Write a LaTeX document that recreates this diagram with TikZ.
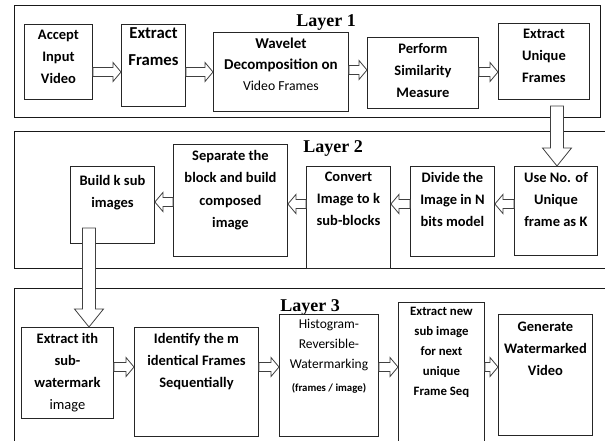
\documentclass[tikz,border=0pt]{standalone}
\usepackage{fontspec}
\setmainfont{Carlito}
\newfontfamily\layerfont{Liberation Serif}
\usetikzlibrary{calc}

\tikzset{
  layer/.style={draw=black!90, line width=0.95pt},
  blk/.style={draw=black!85, line width=0.9pt, anchor=north west, inner sep=0pt},
  txt/.style={anchor=north, inner sep=0pt, align=center,
    font=\bfseries\fontsize{14.5}{22}\selectfont, execute at begin node=\strut},
  ttl/.style={anchor=base, inner sep=0pt, font=\layerfont\bfseries\fontsize{18}{20}\selectfont},
  hollow/.style={draw=black!75, fill=white, line width=0.8pt, line join=miter}
}

% hollow block arrow: tail, tip, half shaft, half head, head length
\newcommand{\blockarrow}[5]{%
  \path (#1) coordinate (ba-t) (#2) coordinate (ba-p) ($(ba-p)!#5!(ba-t)$) coordinate (ba-h);
  \draw[hollow] ($(ba-t)!#3!90:(ba-p)$) -- ($(ba-h)!#3!90:(ba-p)$) -- ($(ba-h)!#4!90:(ba-p)$)
    -- (ba-p) -- ($(ba-h)!#4!-90:(ba-p)$) -- ($(ba-h)!#3!-90:(ba-p)$) -- ($(ba-t)!#3!-90:(ba-p)$) -- cycle;}
\newcommand{\harr}[2]{\blockarrow{#1}{#2}{4.5pt}{9.5pt}{8pt}}
\newcommand{\varr}[2]{\blockarrow{#1}{#2}{6.5pt}{14.5pt}{18pt}}

\begin{document}
\begin{tikzpicture}[x=1pt, y=-1pt]
        \clip (0,0) rectangle (605,441);
        % layers
        \draw[layer] (14,5) rectangle (600,117);
        \draw[layer] (14,131) rectangle (612,268);
        \draw[layer] (14,288) rectangle (612,450);
        \node[ttl] (t1) at (326,27) {Layer 1};
        \node[ttl] (t2) at (333,153) {Layer 2};
        \node[ttl] (t3) at (310,311) {Layer 3};

        % layer 1
        \node[blk, minimum width=68pt, minimum height=75pt] (acc) at (24,24) {};
        \node[blk, minimum width=64pt, minimum height=82pt] (ext) at (121,24) {};
        \node[blk, minimum width=135pt, minimum height=79pt] (wav) at (213,32) {};
        \node[blk, minimum width=111pt, minimum height=71pt] (per) at (367,37) {};
        \node[blk, minimum width=91pt, minimum height=76pt] (unq) at (498,23) {};
        \node[txt] (acc-t) at ([yshift=-6pt]acc.north) {Accept\\Input\\Video};
        \node[txt, font=\bfseries\fontsize{16.7}{27}\selectfont] (ext-t) at ([yshift=-3pt]ext.north) {Extract\\Frames};
        \node[txt, font=\bfseries\fontsize{15}{21}\selectfont] (wav-t) at ([yshift=-6pt]wav.north)
          {Wavelet\\Decomposition on\\{\mdseries\fontsize{13.7}{20}\selectfont Video Frames}};
        \node[txt] (per-t) at ([yshift=-6pt]per.north) {Perform\\Similarity\\Measure};
        \node[txt] (unq-t) at ([yshift=-6pt]unq.north) {Extract\\Unique\\Frames};

        % layer 2
        \node[blk, minimum width=84pt, minimum height=77pt] (bld) at (70,166) {};
        \node[blk, minimum width=114pt, minimum height=112pt] (sep) at (173,144) {};
        \node[blk, minimum width=84pt, minimum height=102pt] (conv) at (306,166) {};
        \node[blk, minimum width=84pt, minimum height=90pt] (div) at (410,166) {};
        \node[blk, minimum width=83pt, minimum height=89pt] (use) at (514,166) {};
        \node[txt] (bld-t) at ([yshift=-9pt]bld.north) {Build k sub\\images};
        \node[txt, font=\bfseries\fontsize{14.5}{22.5}\selectfont] (sep-t) at ([yshift=-6pt]sep.north)
          {Separate the\\block and build\\composed\\image};
        \node[txt] (conv-t) at ([yshift=-6pt]conv.north) {Convert\\Image to k\\sub-blocks};
        \node[txt] (div-t) at ([yshift=-6pt]div.north) {Divide the\\Image in N\\bits model};
        \node[txt] (use-t) at ([yshift=-6pt]use.north) {Use No. of\\Unique\\frame as K};

        % layer 3
        \node[blk, minimum width=92pt, minimum height=91pt] (eith) at (21,327) {};
        \node[blk, minimum width=124pt, minimum height=109pt] (iden) at (134,327) {};
        \node[blk, minimum width=99pt, minimum height=122pt] (hist) at (279,314) {};
        \node[blk, minimum width=86pt, minimum height=150pt] (enew) at (398,302) {};
        \node[blk, minimum width=94pt, minimum height=121pt] (gen) at (498,314) {};
        \node[txt] (eith-t) at ([yshift=-6pt]eith.north) {Extract ith\\sub-\\watermark\\{\mdseries image}};
        \node[txt] (iden-t) at ([yshift=-6pt]iden.north) {Identify the m\\identical Frames\\Sequentially};
        \node[txt, font=\mdseries\fontsize{13.5}{20}\selectfont] (hist-t) at ([yshift=-5pt]hist.north)
          {Histogram-\\Reversible-\\Watermarking\\[3pt]{\bfseries\fontsize{10.8}{12}\selectfont (frames / image)}};
        \node[txt, font=\bfseries\fontsize{12.8}{20}\selectfont] (enew-t) at ([yshift=-5pt]enew.north)
          {Extract new\\sub image\\for next\\unique\\Frame Seq};
        \node[txt] (gen-t) at ([yshift=-8pt]gen.north) {Generate\\Watermarked\\Video};

        % arrows
        \coordinate (r1) at (0,72);
        \coordinate (r1b) at (0,70);
        \coordinate (r2) at (0,204);
        \coordinate (r2b) at (0,202);
        \coordinate (r3) at (0,367);
        \coordinate (d1) at (557,106);
        \coordinate (d2) at (89,228);
        \harr{acc.east |- r1}{ext.west |- r1}
        \harr{ext.east |- r1}{wav.west |- r1}
        \harr{wav.east |- r1b}{per.west |- r1b}
        \harr{per.east |- r1}{unq.west |- r1}
        \varr{d1}{d1 |- use.north}
        \harr{use.west |- r2}{div.east |- r2}
        \harr{div.west |- r2}{conv.east |- r2}
        \harr{conv.west |- r2}{sep.east |- r2}
        \harr{sep.west |- r2b}{bld.east |- r2b}
        \varr{d2}{d2 |- eith.north}
        \harr{eith.east |- r3}{iden.west |- r3}
        \harr{iden.east |- r3}{hist.west |- r3}
        \harr{hist.east |- r3}{enew.west |- r3}
        \harr{enew.east |- r3}{gen.west |- r3}
      \end{tikzpicture}
\end{document}
